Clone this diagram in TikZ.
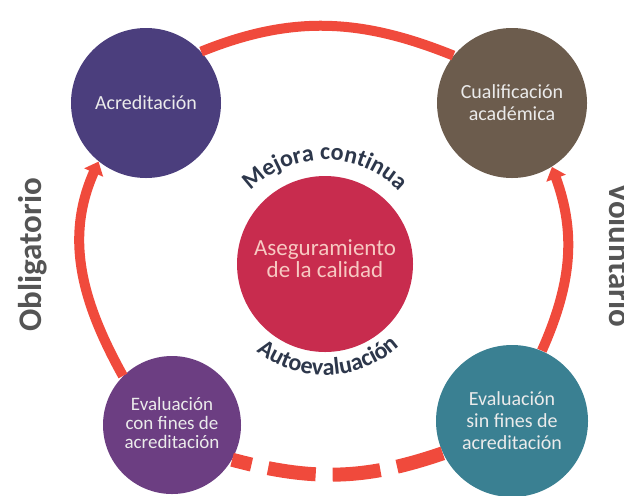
\documentclass[tikz,border=0pt]{standalone}
\usepackage{fontspec}
\setmainfont{Carlito}
\usetikzlibrary{arrows.meta,decorations.text}
\definecolor{ringred}{HTML}{F04A3C}
\definecolor{acredcol}{HTML}{4B3E7D}
\definecolor{cualifcol}{HTML}{6C5C4D}
\definecolor{asegcol}{HTML}{C82C4E}
\definecolor{evconcol}{HTML}{6C3E82}
\definecolor{evsincol}{HTML}{3A8092}
\definecolor{asegtext}{HTML}{F7C9C2}
\definecolor{curvetext}{HTML}{2D374B}
\definecolor{sidegray}{HTML}{555555}
\tikzstyle{stage}=[circle, inner sep=0pt, align=center, text=white!92!black, font=\fontsize{10}{11}\selectfont]
\tikzstyle{side}=[inner sep=0pt, text=sidegray, font=\fontsize{16.5}{18}\selectfont\bfseries]

\begin{document}
\begin{tikzpicture}[
        x=0.5pt, y=0.5pt,
        ring/.style={draw=ringred, line width=5pt},
        line/.style={ring, ->, >={Triangle[length=6pt,width=10pt]}},
      ]
      \useasboundingbox (0,0) rectangle (624,495);
      \node (Aseguramiento) [stage, fill=asegcol, minimum size=88pt, text=asegtext, font=\fontsize{11.5}{11}\selectfont] at (325,231)
            {Aseguramiento\\de la calidad\\[-6pt]};
      \node (Acreditacion) [stage, fill=acredcol, minimum size=75pt] at (146,392)
            {Acreditación};
      \node (Cualificacion) [stage, fill=cualifcol, minimum size=75pt] at (512,392)
            {Cualificación\\académica};
      \node (EvalCon) [stage, fill=evconcol, minimum size=69pt, font=\fontsize{9.5}{9.5}\selectfont] at (172,70)
            {Evaluación\\con fines de\\acreditación\\[-7pt]};
      \node (EvalSin) [stage, fill=evsincol, minimum size=76pt] at (512,74)
            {Evaluación\\sin fines de\\acreditación};
      \node (Obligatorio) [side, rotate=90] at (33,240) {Obligatorio};
      \node (Voluntario) [side, rotate=-90] at (621,240) {Voluntario};
      % ring
      \draw [ring] (Acreditacion.43) to[out=22, in=158] (Cualificacion.141);
      \draw [line] (EvalSin.67) to[out=66, in=290] (Cualificacion.302);
      \draw [line] (EvalCon.135) to[out=119, in=246] (Acreditacion.231);
      \draw [ring, line width=7pt, dash pattern=on 24pt off 8.5pt, dash phase=14pt] (EvalCon.330) to[out=345, in=199] (EvalSin.205);
      % curved labels
      \path [decorate, decoration={text along path, text align=center,
            text={|\fontsize{12}{14}\selectfont\bfseries\color{curvetext}|Mejora continua}}]
            (Aseguramiento.center) ++(140:104) arc[start angle=140, end angle=40, radius=104];
      \path [decorate, decoration={text along path, text align=center,
            text={|\fontsize{12}{14}\selectfont\bfseries\color{curvetext}|Autoevaluación}}]
            (Aseguramiento.center) ++(220:111) arc[start angle=220, end angle=324, radius=111];
    \end{tikzpicture}
\end{document}
